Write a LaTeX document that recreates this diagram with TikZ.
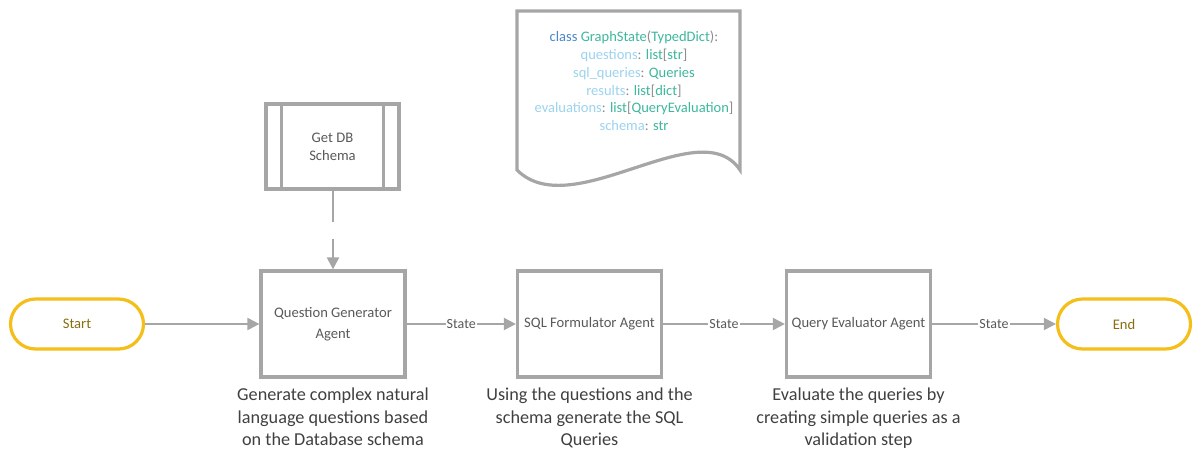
\documentclass[tikz,border=0pt]{standalone}
\usepackage{fontspec}
\setmainfont{Carlito}
\usetikzlibrary{arrows.meta,positioning}
\definecolor{boxgray}{HTML}{A6A6A6}
\definecolor{txtgray}{HTML}{595959}
\definecolor{descgray}{HTML}{404040}
\definecolor{termgold}{HTML}{F4BE1B}
\definecolor{termtxt}{HTML}{8A6D10}
\definecolor{kwblue}{HTML}{4A86C8}
\definecolor{typeteal}{HTML}{3DB89E}
\definecolor{varblue}{HTML}{9CD3EE}
\definecolor{punct}{HTML}{8C8C8C}
\newcommand{\kw}[1]{\textcolor{kwblue}{#1}}
\newcommand{\ty}[1]{\textcolor{typeteal}{#1}}
\newcommand{\vr}[1]{\textcolor{varblue}{#1}}
\newcommand{\pu}[1]{\textcolor{punct}{#1}}
\tikzset{
  agent/.style={draw=boxgray, line width=3.2pt, minimum width=144pt, minimum height=106pt,
    align=center, text=txtgray, font=\fontsize{14.6pt}{21pt}\selectfont, inner sep=2pt},
  term/.style={draw=termgold, line width=3.2pt, rounded corners=25pt, minimum width=133pt,
    minimum height=50pt, text=termtxt, font=\fontsize{14.6pt}{18pt}\selectfont},
  desc/.style={align=center, text=descgray, font=\fontsize{18.2pt}{22.5pt}\selectfont, inner sep=0pt},
  conn/.style={draw=boxgray, line width=2pt, -{Triangle[length=12pt,width=12pt]}},
  lbl/.style={fill=white, text=txtgray, font=\fontsize{14pt}{16pt}\selectfont, inner sep=1pt},
  subproc/.style={draw=boxgray, line width=3.2pt, minimum width=133pt, minimum height=85pt,
    align=center, text=txtgray, font=\fontsize{14.6pt}{18pt}\selectfont},
  gap/.style={fill=white, inner sep=0pt, minimum width=6pt, minimum height=17pt}
}
\begin{document}
\begin{tikzpicture}[x=1pt,y=-1pt]
\useasboundingbox (0,0) rectangle (1200,467);

% document shape
\draw[boxgray, line width=3.2pt, line join=miter, fill=white]
  (517,170) -- (517,11) -- (740,11) -- (740,170)
  .. controls (700,110) and (572,225) .. (517,170) -- cycle;
\node[align=center, font=\fontsize{14.5pt}{17.8pt}\selectfont, inner sep=0pt] (code) at (634,81)
  {\kw{class} \ty{GraphState}\pu{(}\ty{TypedDict}\pu{):}\\
   \vr{questions}\pu{:} \ty{list}\pu{[}\ty{str}\pu{]}\\
   \vr{sql\_queries}\pu{:} \ty{Queries}\\
   \vr{results}\pu{:} \ty{list}\pu{[}\ty{dict}\pu{]}\\
   \vr{evaluations}\pu{:} \ty{list}\pu{[}\ty{QueryEvaluation}\pu{]}\\
   \vr{schema}\pu{:} \ty{str}};

% Get DB Schema
\node[subproc] (db) at (332.5,146.5) {Get DB\\Schema};
\draw[boxgray, line width=3.2pt] ([xshift=17pt]db.north west) -- ([xshift=17pt]db.south west);
\draw[boxgray, line width=3.2pt] ([xshift=-17pt]db.north east) -- ([xshift=-17pt]db.south east);

% main row
\node[term] (start) at (77,324) {Start};
\node[agent] (qg) at (333,324) {Question Generator\\Agent};
\node[agent] (sql) at (589.5,324) {SQL Formulator Agent};
\node[agent] (qe) at (858.5,324) {Query Evaluator Agent};
\node[term] (end) at (1124,324) {End};

\draw[conn] (db.south -| qg.north) -- node[gap]{} (qg.north);
\draw[conn] (start) -- (qg);
\draw[conn] (qg) -- node[lbl]{State} (sql);
\draw[conn] (sql) -- node[lbl]{State} (qe);
\draw[conn] (qe) -- node[lbl]{State} (end);

% descriptions
\node[desc, anchor=north] (d1) at (333,388) {Generate complex natural\\language questions based\\on the Database schema};
\node[desc, anchor=north] (d2) at (589.5,388) {Using the questions and the\\schema generate the SQL\\Queries};
\node[desc, anchor=north] (d3) at (858.5,388) {Evaluate the queries by\\creating simple queries as a\\validation step};
\end{tikzpicture}
\end{document}
